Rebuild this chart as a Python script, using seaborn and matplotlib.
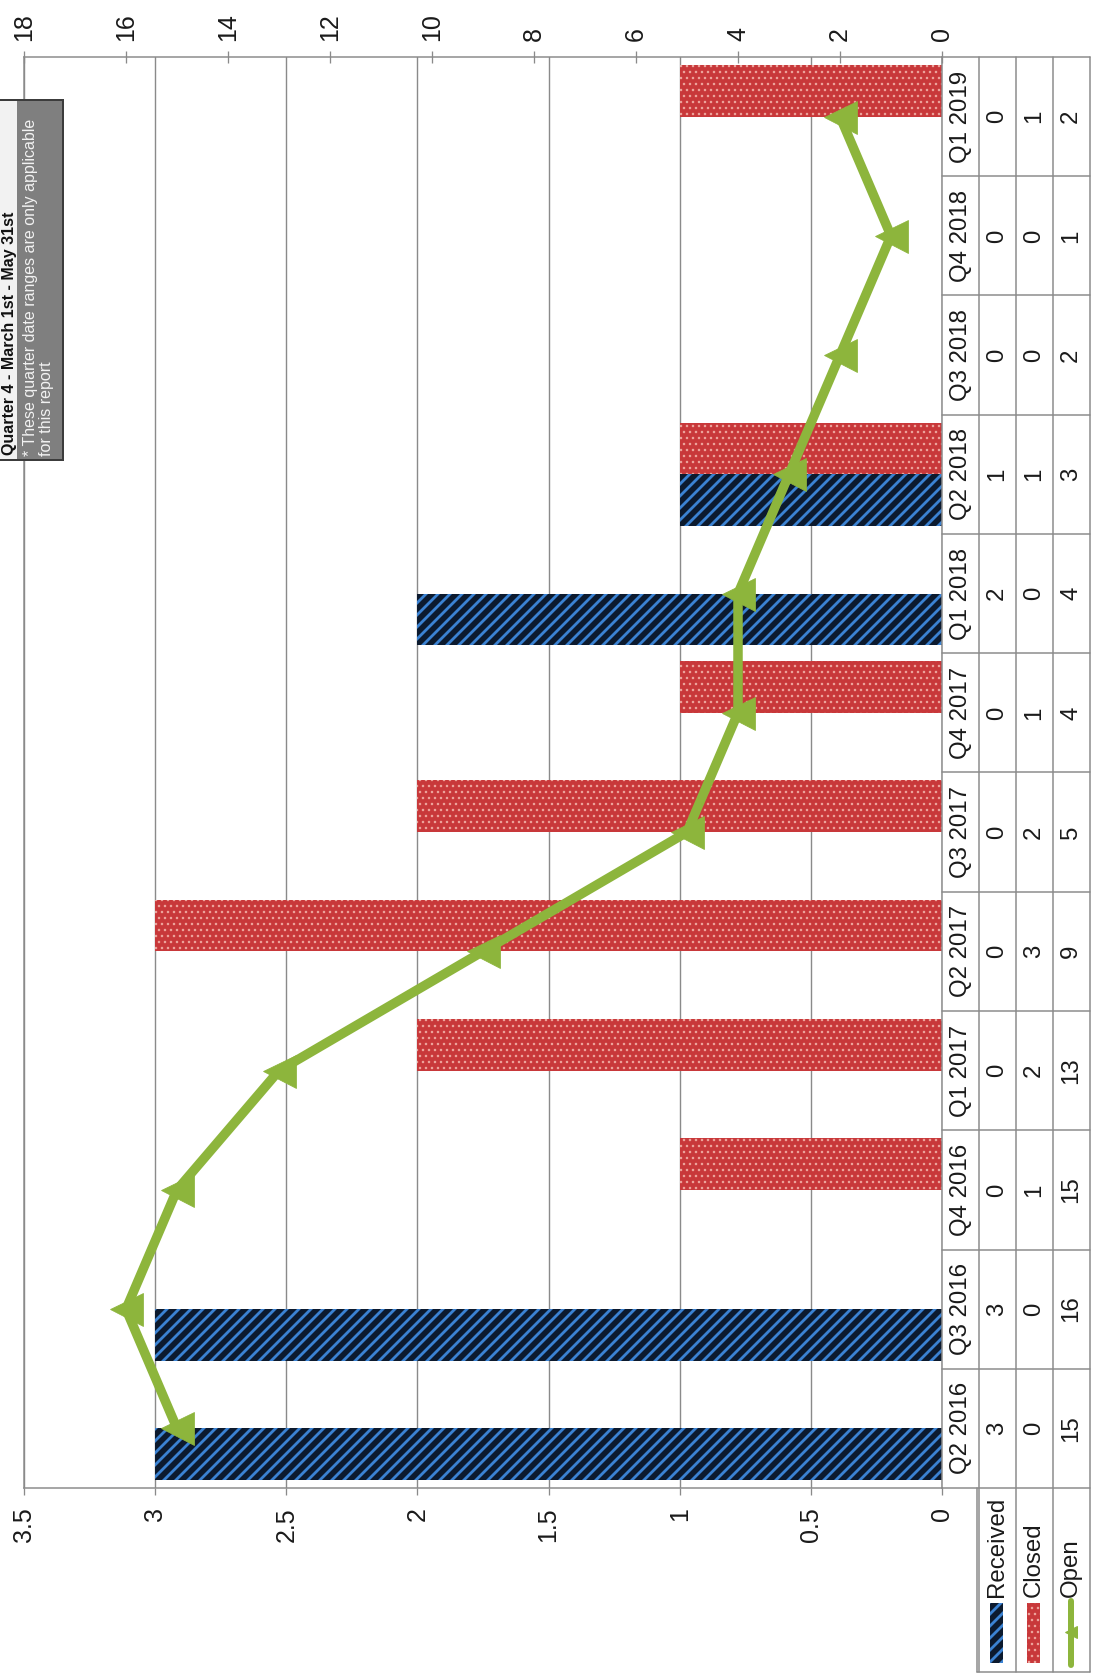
import numpy as np
import pandas as pd
import matplotlib
matplotlib.use("Agg")
import matplotlib.pyplot as plt
import matplotlib.transforms as mtransforms
from matplotlib.colors import to_rgb
from matplotlib.patches import Rectangle
from matplotlib.lines import Line2D
import seaborn as sns

# ---- data -------------------------------------------------------------
quarters = ["Q2 2016", "Q3 2016", "Q4 2016", "Q1 2017", "Q2 2017", "Q3 2017",
            "Q4 2017", "Q1 2018", "Q2 2018", "Q3 2018", "Q4 2018", "Q1 2019"]
received = [3, 3, 0, 0, 0, 0, 0, 2, 1, 0, 0, 0]
closed = [0, 0, 1, 2, 3, 2, 1, 0, 1, 0, 0, 1]
open_items = [15, 16, 15, 13, 9, 5, 4, 4, 3, 2, 1, 2]
series_names = ["Received", "Closed", "Open"]

count_ticks = [0, 0.5, 1, 1.5, 2, 2.5, 3, 3.5]
count_labels = ["0", "0.5", "1", "1.5", "2", "2.5", "3", "3.5"]
open_ticks = [0, 2, 4, 6, 8, 10, 12, 14, 16, 18]
open_labels = [str(t) for t in open_ticks]

note_title = "Quarter 4 - March 1st - May 31st"
note_lines = ["* These quarter date ranges are only applicable", "for this report"]

# ---- styling ----------------------------------------------------------
REC_FACE, REC_HATCH = "#0C1A2E", "#3B82D2"
CLO_FACE, CLO_HATCH = "#C8383A", "#EDA49C"
GREEN = "#8DB53C"
GRID = "#8A8A8A"
TXT = "#1A1A1A"

W, H, DPI = 1094, 1679, 72
sns.set_theme(style="white")
plt.rcParams["font.family"] = ["Liberation Sans", "DejaVu Sans"]
plt.rcParams["hatch.linewidth"] = 2.8

fig = plt.figure(figsize=(W / DPI, H / DPI), dpi=DPI)
fig.patch.set_facecolor("white")

# plot area (pixels)
L, R, T, B = 24, 942, 57, 1488
ax = fig.add_axes([L / W, 1 - B / H, (R - L) / W, (B - T) / H])

pos = np.arange(len(quarters))
bars = pd.DataFrame({
    "pos": np.concatenate([pos, pos]),
    "value": received + closed,
    "series": ["Received"] * len(pos) + ["Closed"] * len(pos),
})
sns.barplot(data=bars, x="value", y="pos", hue="series",
            hue_order=["Received", "Closed"], orient="y", native_scale=True,
            width=0.87, dodge=True, errorbar=None, saturation=1,
            palette={"Received": REC_FACE, "Closed": CLO_FACE},
            linewidth=0, legend=False, ax=ax)

for p in ax.patches:
    fc = to_rgb(p.get_facecolor())
    if np.allclose(fc, to_rgb(REC_FACE), atol=0.02):
        p.set_hatch("//")
        p.set_edgecolor(REC_HATCH)
    else:
        p.set_hatch("..")
        p.set_edgecolor(CLO_HATCH)
        if hasattr(p, "set_hatch_linewidth"):
            p.set_hatch_linewidth(1.3)
    p.set_linewidth(0)

ax.set_xlim(3.5, 0)
ax.set_ylim(-0.5, len(quarters) - 0.5)
ax.set_xticks(count_ticks)
ax.set_xticklabels(count_labels, rotation=90, fontsize=25, color=TXT)
ax.set_yticks([])
ax.set_xlabel("")
ax.set_ylabel("")
ax.tick_params(axis="x", direction="out", length=7, width=1.3, color=GRID,
               pad=12, bottom=True)
ax.set_axisbelow(True)
ax.xaxis.grid(True, color=GRID, linewidth=1.4)
ax.yaxis.grid(False)
for side in ["left", "right", "bottom"]:
    ax.spines[side].set_visible(True)
    ax.spines[side].set_color(GRID)
    ax.spines[side].set_linewidth(1.5)
ax.spines["top"].set_visible(False)

# open items on the secondary scale
ax2 = ax.twiny()
sns.lineplot(x=open_items, y=pos, ax=ax2, sort=False, orient="y",
             color=GREEN, linewidth=9.5, marker="<", markersize=33,
             markeredgecolor=GREEN, markerfacecolor=GREEN)
ax2.set_xlim(18, 0)
ax2.set_xticks(open_ticks)
ax2.set_xticklabels(open_labels, rotation=90, fontsize=25, color=TXT)
ax2.tick_params(axis="x", direction="inout", length=12, width=1.3,
                color=GRID, pad=10, top=True)
ax2.set_xlabel("")
ax2.set_ylabel("")
ax2.grid(False)
for side in ["left", "right", "bottom"]:
    ax2.spines[side].set_visible(False)
ax2.spines["top"].set_visible(True)
ax2.spines["top"].set_color(GRID)
ax2.spines["top"].set_linewidth(1.5)

# ---- overlay: data table, legend keys, note box ------------------------
ov = fig.add_axes([0, 0, 1, 1], zorder=5)
ov.set_xlim(0, W)
ov.set_ylim(H, 0)
ov.set_autoscale_on(False)
ov.axis("off")
ov.patch.set_alpha(0)
row_tr = mtransforms.blended_transform_factory(ov.transData, ax.transData)

TAB_L, TAB_R, TAB_BOT = 942, 1090, 1672
col_edges = [979, 1016, 1053, 1090]
col_centers = [961, 997, 1034, 1071]
line_kw = dict(color=GRID, linewidth=1.5)

for k in range(len(quarters) + 1):
    ov.add_line(Line2D([TAB_L, TAB_R], [k - 0.5, k - 0.5], transform=row_tr, **line_kw))
for xe in col_edges:
    ov.add_line(Line2D([xe, xe], [T, TAB_BOT], **line_kw))
ov.add_line(Line2D([977, TAB_R], [TAB_BOT, TAB_BOT], **line_kw))
ov.add_line(Line2D([977, 977], [B, TAB_BOT], **line_kw))

txt_kw = dict(rotation=90, rotation_mode="anchor", ha="center", va="center",
              fontsize=24, color=TXT)
for i, q in enumerate(quarters):
    ov.text(col_centers[0], i, q, transform=row_tr, **txt_kw)
    ov.text(col_centers[1], i, str(received[i]), transform=row_tr, **txt_kw)
    ov.text(col_centers[2], i, str(closed[i]), transform=row_tr, **txt_kw)
    ov.text(col_centers[3], i, str(open_items[i]), transform=row_tr, **txt_kw)

# legend column
for name, xc in zip(series_names, col_centers[1:]):
    ov.text(xc, 1597, name, rotation=90, rotation_mode="anchor", ha="left",
            va="center", fontsize=24, color=TXT)
rk = Rectangle((990, 1603), 13, 60, facecolor=REC_FACE, edgecolor=REC_HATCH,
               hatch="//", linewidth=0)
ck = Rectangle((1027, 1603), 13, 60, facecolor=CLO_FACE, edgecolor=CLO_HATCH,
               hatch="..", linewidth=0)
if hasattr(ck, "set_hatch_linewidth"):
    ck.set_hatch_linewidth(1.3)
ov.add_patch(rk)
ov.add_patch(ck)
ov.add_line(Line2D([1071, 1071], [1601, 1665], color=GREEN, linewidth=6,
                   solid_capstyle="round"))
ov.add_line(Line2D([1071], [1632], color=GREEN, marker="<", markersize=12,
                   markeredgecolor=GREEN))

# note box in the corner
ov.add_patch(Rectangle((-4, 100), 67, 360, facecolor="#7F7F7F",
                       edgecolor="#3C3C3C", linewidth=2, clip_on=False))
ov.add_patch(Rectangle((-4, 101), 21, 358, facecolor="#F2F2F2",
                       edgecolor="none", clip_on=False))
ov.text(14, 455, note_title, rotation=90, rotation_mode="anchor", ha="left",
        va="baseline", fontsize=16, fontweight="bold", color="#111111")
for xc, line in zip([30, 47], note_lines):
    ov.text(xc, 456, line, rotation=90, rotation_mode="anchor", ha="left",
            va="center", fontsize=16, color="#F2F2F2")

fig.savefig("out.png", dpi=DPI, facecolor="white")
